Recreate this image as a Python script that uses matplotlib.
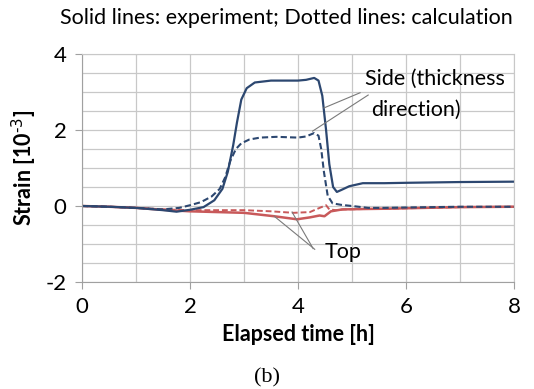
#!/usr/bin/env python3
"""Strain vs elapsed time, side and top gauges (experiment vs calculation)."""

import matplotlib

matplotlib.use("Agg")
import matplotlib.pyplot as plt  # noqa: E402

plt.rcParams["font.family"] = ["Lato", "DejaVu Sans"]
plt.rcParams["axes.unicode_minus"] = False
plt.rcParams["mathtext.default"] = "regular"

# side gauge, experiment (solid)
side_exp_t = [0, 0.5, 1.0, 1.5, 1.75, 2.0, 2.25, 2.45, 2.6, 2.7, 2.8, 2.87, 2.95, 3.05, 3.2,
              3.5, 3.8, 4.0, 4.15, 4.3, 4.38, 4.45, 4.52, 4.58, 4.65, 4.72, 4.8, 4.95, 5.2,
              5.6, 6.0, 7.0, 8.0]
side_exp_y = [0, -0.02, -0.05, -0.11, -0.15, -0.1, -0.03, 0.15, 0.45, 0.9, 1.6, 2.2, 2.8, 3.1, 3.25,
              3.3, 3.3, 3.3, 3.32, 3.37, 3.3, 2.9, 2.0, 1.1, 0.5, 0.37, 0.42, 0.52, 0.6,
              0.6, 0.61, 0.63, 0.64]

# side gauge, calculation (dotted)
side_calc_t = [0, 0.5, 1.0, 1.5, 1.8, 2.0, 2.2, 2.4, 2.55, 2.65, 2.75, 2.85, 2.95, 3.1, 3.3,
               3.6, 4.0, 4.15, 4.3, 4.38, 4.43, 4.48, 4.55, 4.64, 4.8, 5.0, 5.3, 5.6, 6.0,
               7.0, 8.0]
side_calc_y = [0, -0.02, -0.05, -0.09, -0.05, 0.02, 0.1, 0.25, 0.45, 0.75, 1.2, 1.5, 1.65, 1.75, 1.8,
               1.82, 1.8, 1.83, 1.92, 1.85, 1.5, 0.9, 0.27, 0.07, 0.03, 0.0, -0.05, -0.05, -0.04,
               -0.02, -0.02]

# top gauge, experiment (solid)
top_exp_t = [0, 0.5, 1.0, 1.5, 2.0, 2.5, 3.0, 3.56, 3.98, 4.22, 4.4, 4.49, 4.61, 4.82, 5.2,
             5.7, 6.0, 7.0, 8.0]
top_exp_y = [0, -0.02, -0.05, -0.1, -0.14, -0.16, -0.18, -0.27, -0.35, -0.3, -0.25, -0.27, -0.14, -0.09, -0.08,
             -0.07, -0.06, -0.03, -0.02]

# top gauge, calculation (dotted)
top_calc_t = [0, 0.5, 1.0, 1.5, 2.0, 2.5, 3.0, 3.5, 3.92, 4.22, 4.4, 4.52, 4.58, 4.7, 4.85,
              5.2, 5.7, 6.0, 7.0, 8.0]
top_calc_y = [0, -0.02, -0.05, -0.09, -0.11, -0.11, -0.11, -0.14, -0.18, -0.16, -0.05, 0.02, -0.09, -0.11, -0.09,
              -0.08, -0.07, -0.06, -0.03, -0.02]

x_ticks = [0, 2, 4, 6, 8]
y_ticks = [-2, 0, 2, 4]

BLUE = "#2C4770"
RED = "#C8595A"
GRID = "#C8C8C8"

fig = plt.figure(figsize=(5.34, 3.89), dpi=100)
ax = fig.add_axes([0.1536, 0.2751, 0.8089, 0.5861])

ax.plot(top_exp_t, top_exp_y, color=RED, lw=1.8)
ax.plot(top_calc_t, top_calc_y, color=RED, lw=1.4, ls=(0, (3, 1.5)))
ax.plot(side_exp_t, side_exp_y, color=BLUE, lw=1.6)
ax.plot(side_calc_t, side_calc_y, color=BLUE, lw=1.5, ls=(0, (3, 1.5)))

ax.set_xlim(0, 8)
ax.set_ylim(-2, 4)
ax.set_xticks(x_ticks)
ax.set_yticks(y_ticks)
ax.set_xticks(range(0, 9), minor=True)
ax.set_yticks([v / 2 for v in range(-4, 9)], minor=True)
ax.grid(which="both", color=GRID, lw=0.9)
ax.tick_params(which="minor", length=0)
ax.tick_params(which="major", length=5, color="#A0A0A0", labelsize=16, pad=6)
for side in ax.spines.values():
    side.set_color(GRID)
ax.spines["left"].set_color("#A0A0A0")
ax.spines["bottom"].set_color("#A0A0A0")

ax.set_xlabel("Elapsed time [h]", fontsize=15.5, fontweight="bold", labelpad=5)
ax.set_ylabel(r"Strain [10$^{\text{-3}}$]", fontsize=15.5, fontweight="bold", labelpad=5)

fig.text(0.536, 0.954, "Solid lines: experiment; Dotted lines: calculation",
         ha="center", va="center", fontsize=15.5)
fig.text(0.5, 0.028, "(b)", ha="center", va="center", fontsize=16,
         family=["Liberation Serif", "DejaVu Serif"])

# leader lines
lead = dict(color="#7A7A7A", lw=0.8)
ax.plot([5.15, 4.48], [2.98, 2.58], **lead)
ax.plot([5.3, 4.27], [2.92, 1.97], **lead)
ax.plot([4.31, 3.56], [-1.14, -0.27], **lead)
ax.plot([4.28, 3.89], [-1.12, -0.16], **lead)

ax.text(5.25, 3.35, "Side (thickness", fontsize=15.5, ha="left", va="center")
ax.text(5.36, 2.53, "direction)", fontsize=15.5, ha="left", va="center")
ax.text(4.49, -1.21, "Top", fontsize=15.5, ha="left", va="center")

fig.savefig("out.png", dpi=100)
